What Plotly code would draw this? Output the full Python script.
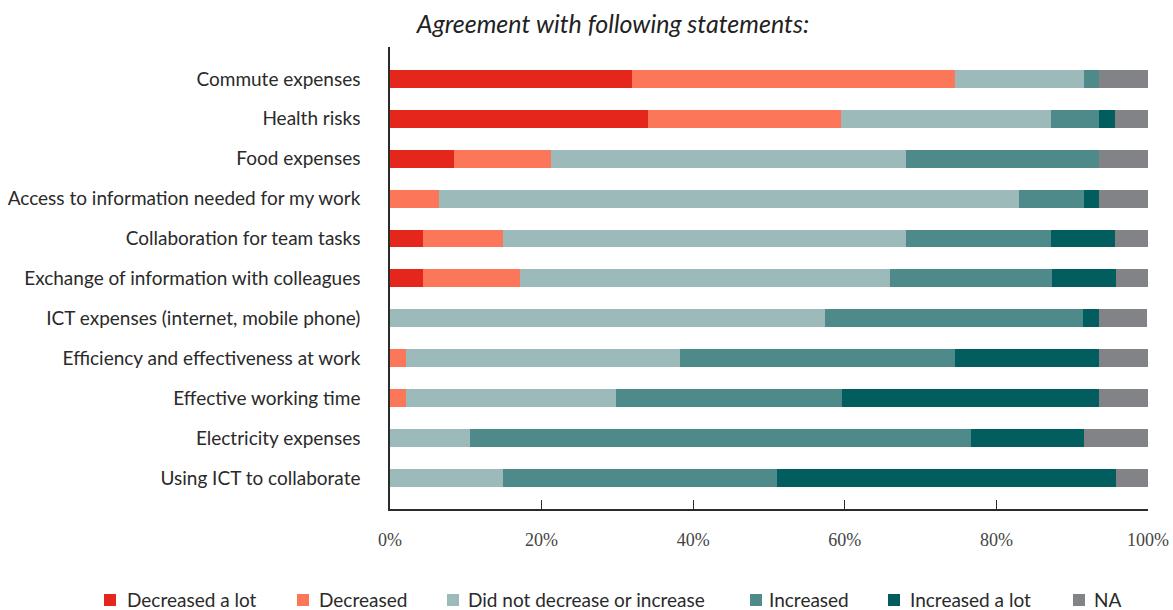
import plotly.graph_objects as go

# Statements, listed top to bottom
categories = [
    "Commute expenses",
    "Health risks",
    "Food expenses",
    "Access to information needed for my work",
    "Collaboration for team tasks",
    "Exchange of information with colleagues",
    "ICT expenses (internet, mobile phone)",
    "Efficiency and effectiveness at work",
    "Effective working time",
    "Electricity expenses",
    "Using ICT to collaborate",
]

# Share of respondents (%) per answer
decreased_a_lot = [31.9, 34.0, 8.5, 0.0, 4.3, 4.3, 0.0, 0.0, 0.0, 0.0, 0.0]
decreased = [42.6, 25.5, 12.8, 6.4, 10.6, 12.8, 0.0, 2.1, 2.1, 0.0, 0.0]
no_change = [17.0, 27.7, 46.8, 76.6, 53.2, 48.9, 57.4, 36.2, 27.7, 10.6, 14.9]
increased = [2.1, 6.4, 25.5, 8.5, 19.1, 21.3, 34.0, 36.2, 29.8, 66.0, 36.2]
increased_a_lot = [0.0, 2.1, 0.0, 2.1, 8.5, 8.5, 2.1, 19.1, 34.0, 14.9, 44.7]
not_answered = [6.4, 4.3, 6.4, 6.4, 4.3, 4.3, 6.4, 6.4, 6.4, 8.5, 4.3]

series_names = [
    "Decreased a lot",
    "Decreased",
    "Did not decrease or increase",
    "Increased",
    "Increased a lot",
    "NA",
]
series_values = [decreased_a_lot, decreased, no_change, increased, increased_a_lot, not_answered]
series_colors = ["#E5261C", "#FC765A", "#9BBAB9", "#4E8A89", "#025E5E", "#828386"]

tick_values = [0, 20, 40, 60, 80, 100]
tick_labels = ["0%", "20%", "40%", "60%", "80%", "100%"]

# Page geometry (pixels)
W, H = 1173, 610
M_L, M_R, M_T, M_B = 390, 25, 47, 101
PLOT_W = W - M_L - M_R
PLOT_H = H - M_T - M_B

LABEL_FONT = "Lato, 'Open Sans', sans-serif"
TEXT_COLOR = "#2a2a2a"


def paper_x(px):
    return (px - M_L) / PLOT_W


def paper_y(py):
    return (H - M_B - py) / PLOT_H


fig = go.Figure()
for name, vals, color in zip(series_names, series_values, series_colors):
    fig.add_trace(
        go.Bar(
            y=categories,
            x=vals,
            name=name,
            orientation="h",
            marker=dict(color=color, line=dict(width=0)),
            showlegend=False,
            hovertemplate="%{y}<br>" + name + ": %{x:.1f}%<extra></extra>",
        )
    )

# Legend drawn as squares with labels along the bottom
legend_square_left = [104, 297, 447, 750, 888, 1073]
legend_text_left = [125, 317, 466, 767, 908, 1092]
legend_y = 599
square = 12
shapes = []
annotations = []
for name, color, sx, tx in zip(series_names, series_colors, legend_square_left, legend_text_left):
    shapes.append(
        dict(
            type="rect",
            xref="paper",
            yref="paper",
            x0=paper_x(sx),
            x1=paper_x(sx + square),
            y0=paper_y(legend_y + 1 + square / 2),
            y1=paper_y(legend_y + 1 - square / 2),
            fillcolor=color,
            line=dict(width=0),
        )
    )
    annotations.append(
        dict(
            xref="paper",
            yref="paper",
            x=paper_x(tx),
            y=paper_y(legend_y),
            xanchor="left",
            yanchor="middle",
            text=name,
            showarrow=False,
            font=dict(family=LABEL_FONT, size=19, color=TEXT_COLOR),
        )
    )

fig.update_layout(
    width=W,
    height=H,
    autosize=False,
    margin=dict(l=M_L, r=M_R, t=M_T, b=M_B, pad=0, autoexpand=False),
    barmode="stack",
    bargap=0.55,
    paper_bgcolor="white",
    plot_bgcolor="white",
    title=dict(
        text="Agreement with following statements:",
        x=613 / W,
        xanchor="center",
        xref="container",
        y=1 - 24 / H,
        yanchor="middle",
        yref="container",
        font=dict(family=LABEL_FONT, size=25, color="#222222", style="italic"),
    ),
    xaxis=dict(
        range=[0, 100],
        tickvals=tick_values,
        ticktext=tick_labels,
        ticks="inside",
        ticklen=9,
        tickwidth=1.3,
        tickcolor="#2b2b2b",
        showline=True,
        linecolor="#2b2b2b",
        linewidth=1.5,
        showgrid=False,
        zeroline=False,
        automargin=False,
        ticklabelstandoff=14,
        tickfont=dict(family="'Liberation Serif', 'DejaVu Serif', serif", size=18, color="#444444"),
        fixedrange=True,
    ),
    yaxis=dict(
        type="category",
        categoryorder="array",
        categoryarray=categories,
        range=[10.78, -0.8],
        showline=True,
        linecolor="#2b2b2b",
        linewidth=1.5,
        ticks="",
        showgrid=False,
        zeroline=False,
        automargin=False,
        ticklabelstandoff=24,
        tickfont=dict(family=LABEL_FONT, size=19, color=TEXT_COLOR),
        fixedrange=True,
    ),
    shapes=shapes,
    annotations=annotations,
)

fig.write_html("out.html")
